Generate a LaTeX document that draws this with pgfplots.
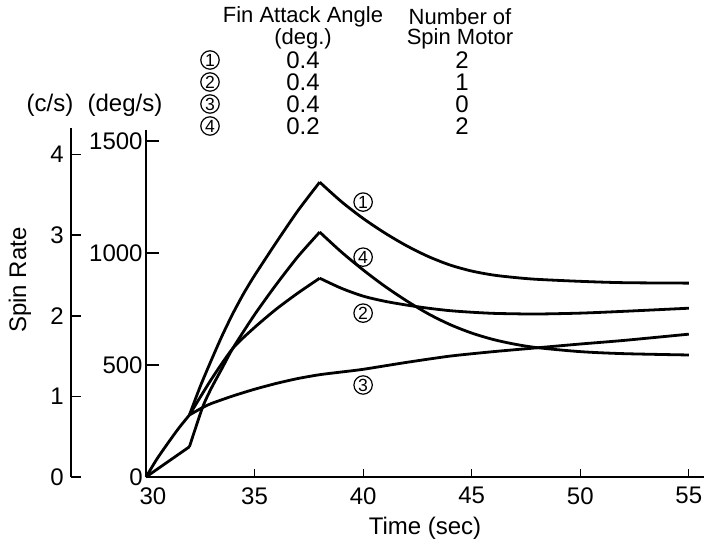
\documentclass[border=0pt]{standalone}
\usepackage{fontspec}
\setmainfont{Liberation Sans}
\usepackage{pgfplots}
\pgfplotsset{compat=1.18}
\newcommand\ticksize{\fontsize{12}{14}\selectfont}
\newcommand\hdsize{\fontsize{11}{13}\selectfont}
\tikzset{cnum/.style={circle, draw=black, line width=0.6pt, inner sep=0pt, minimum size=9.2pt, font=\fontsize{8.8}{9}\selectfont}}
\begin{document}
\begin{tikzpicture}
\path[use as bounding box] (-73pt,-34pt) rectangle (279pt,238.5pt);
% main axis (deg/s)
\begin{axis}[
  at={(0,0)}, anchor=south west, scale only axis,
  width=279pt, height=173.5pt,
  xmin=30, xmax=55.7, ymin=0, ymax=1550,
  axis x line=bottom, axis y line=left,
  axis line style={-, line width=1.4pt},
  every outer x axis line/.append style={-},
  every outer y axis line/.append style={-},
  xtick=\empty,
  ytick={0,500,1000,1500},
  tick align=inside, major tick length=6.5pt,
  y tick style={line width=0.9pt, black},
  yticklabel style={font=\ticksize, inner sep=0pt, xshift=-1.5pt},
  /pgf/number format/assume math mode=true,
  /pgf/number format/1000 sep={},
  clip=false,
]
% common start segment (curves 1,2,3)
\addplot[black, line width=1.4pt, smooth, tension=0.4] coordinates {
 (30,0) (30.5,80) (31,150) (31.5,217) (32,277)};
% curve 4 start
\addplot[black, line width=1.4pt] coordinates {(30,0) (32,135)};
% curve 1
\addplot[black, line width=1.4pt, smooth, tension=0.4] coordinates {
 (32,277) (32.5,405) (33,520) (33.5,630) (34,730) (34.5,820) (35,900) (36,1048) (37,1190) (38,1317)};
\addplot[black, line width=1.4pt, smooth, tension=0.5] coordinates {
 (38,1317) (39,1230) (40,1155) (41,1090) (42,1033) (43,985) (44,947) (45,920) (46,902) (47,891) (48,883) (50,874) (52,868) (55,866)};
% curve 2
\addplot[black, line width=1.4pt, smooth, tension=0.4] coordinates {
 (32,277) (33,435) (34,575) (35,668) (36,750) (37,822) (38,888)};
\addplot[black, line width=1.4pt, smooth, tension=0.5] coordinates {
 (38,888) (39,843) (40,808) (41,785) (42,768) (43,754) (44,743) (45,736) (46,731) (47,729) (48,728) (50,732) (52,740) (55,754)};
% curve 3
\addplot[black, line width=1.4pt, smooth, tension=0.4] coordinates {
 (32,277) (32.6,310) (33,328) (34,362) (35,392) (36,418) (37,440) (38,457) (39,469) (40,481) (42,512) (44,540) (46,560) (48,577) (50,594) (52,610) (55,638)};
% curve 4
\addplot[black, line width=1.4pt, smooth, tension=0.4] coordinates {
 (32,135) (32.6,310) (33,395) (33.5,485) (34,575) (35,725) (36,860) (37,985) (38,1094)};
\addplot[black, line width=1.4pt, smooth, tension=0.5] coordinates {
 (38,1094) (39,1005) (40,925) (41,852) (42,787) (43,729) (44,681) (45,643) (46,614) (47,593) (48,578) (50,560) (52,551) (55,545)};
% curve labels
\node[cnum] at (axis cs:40,1228) {1};
\node[cnum] at (axis cs:40,982) {4};
\node[cnum] at (axis cs:40,732) {2};
\node[cnum] at (axis cs:40,411) {3};
\end{axis}
% x axis ticks and labels
\begin{axis}[
  at={(0,0)}, anchor=south west, scale only axis,
  width=279pt, height=173.5pt,
  xmin=30, xmax=55.7, ymin=0, ymax=1550,
  axis x line=bottom, hide y axis,
  axis line style={-, line width=1.4pt},
  every outer x axis line/.append style={-},
  xtick={35,40,45,50,55},
  extra x ticks={30},
  extra x tick style={xticklabel style={xshift=3.5pt}},
  tick align=inside, major tick length=4pt,
  x tick style={line width=0.6pt, black},
  xticklabel style={font=\ticksize, inner sep=0pt, yshift=-5pt},
  /pgf/number format/assume math mode=true,
  xlabel={Time (sec)},
  xlabel style={font=\ticksize, at={(axis description cs:0.5,0)}, anchor=center, yshift=-25.5pt},
]
\end{axis}
% c/s axis
\begin{axis}[
  at={(-37.5pt,0)}, anchor=south west, scale only axis,
  width=10pt, height=174.5pt,
  xmin=0, xmax=1, ymin=0, ymax=4.33,
  axis y line=left, hide x axis,
  axis line style={-, line width=1.4pt},
  every outer y axis line/.append style={-},
  ytick={0,1,2,3,4},
  tick align=inside, major tick length=5pt,
  y tick style={line width=0.9pt, black},
  yticklabel style={font=\ticksize, inner sep=3.5pt},
  /pgf/number format/assume math mode=true,
]
\end{axis}
% labels
\node[rotate=90, font=\ticksize] at (-63pt,98.5pt) {Spin Rate};
\node[font=\ticksize] at (-48pt,186pt) {(c/s)};
\node[font=\ticksize] at (-10.5pt,186pt) {(deg/s)};
% header table
\node[font=\hdsize, inner sep=0pt] at (78.5pt,230pt) {Fin Attack Angle};
\node[font=\hdsize, inner sep=0pt] at (78.5pt,219pt) {(deg.)};
\node[font=\hdsize, inner sep=0pt] at (157pt,230pt) {Number of};
\node[font=\hdsize, inner sep=0pt] at (157pt,219pt) {Spin Motor};
\node[cnum] at (32pt,208.5pt) {1};
\node[cnum] at (32pt,197.5pt) {2};
\node[cnum] at (32pt,186.5pt) {3};
\node[cnum] at (32pt,175.5pt) {4};
\node[font=\ticksize, inner sep=0pt] at (78.5pt,208.5pt) {0.4};
\node[font=\ticksize, inner sep=0pt] at (78.5pt,197.5pt) {0.4};
\node[font=\ticksize, inner sep=0pt] at (78.5pt,186.5pt) {0.4};
\node[font=\ticksize, inner sep=0pt] at (78.5pt,175.5pt) {0.2};
\node[font=\ticksize, inner sep=0pt] at (158pt,208.5pt) {2};
\node[font=\ticksize, inner sep=0pt] at (158pt,197.5pt) {1};
\node[font=\ticksize, inner sep=0pt] at (158pt,186.5pt) {0};
\node[font=\ticksize, inner sep=0pt] at (158pt,175.5pt) {2};
\end{tikzpicture}
\end{document}
